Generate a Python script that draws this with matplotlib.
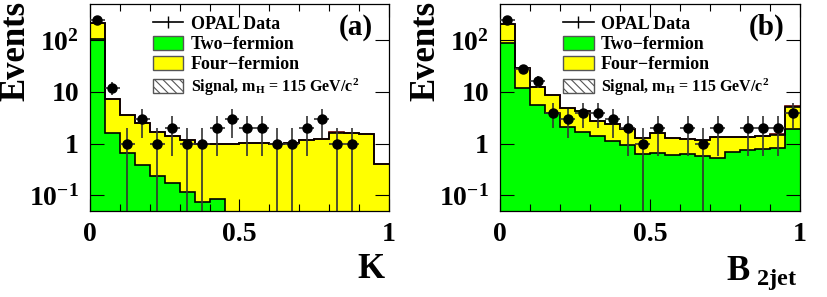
import numpy as np
import matplotlib
matplotlib.use("Agg")
import matplotlib.pyplot as plt
from matplotlib.patches import Patch
from matplotlib.lines import Line2D
from matplotlib.ticker import LogLocator, MultipleLocator, NullFormatter

plt.rcParams["font.family"] = ["Liberation Serif", "DejaVu Serif"]
plt.rcParams["font.weight"] = "bold"
plt.rcParams["mathtext.fontset"] = "custom"
plt.rcParams["mathtext.rm"] = "Liberation Serif:bold"
plt.rcParams["mathtext.it"] = "Liberation Serif:bold"
plt.rcParams["mathtext.bf"] = "Liberation Serif:bold"
plt.rcParams["hatch.linewidth"] = 0.8

# 20 bins of 0.05 between 0 and 1
edges = np.linspace(0.0, 1.0, 21)

# panel (a): K
k_two = [105, 1.62, 0.66, 0.385, 0.24, 0.17, 0.118, 0.073, 0.085, 0,
         0, 0, 0, 0, 0, 0, 0, 0, 0, 0]
k_total = [218, 7.2, 3.6, 2.5, 1.7, 1.38, 1.2, 1.0, 1.0, 0.98,
           1.05, 1.02, 0.99, 1.03, 1.16, 1.25, 1.62, 1.58, 1.53, 0.4]
k_four = list(np.subtract(k_total, k_two))
k_signal = [0, 0, 0, 0, 0, 0, 0, 0, 0, 0,
            0, 0, 0, 0, 0, 0, 0.03, 0.03, 0.03, 0]
k_data = [245, 12, 1, 3, 1, 2, 1, 1, 2, 3,
          2, 2, 1, 1, 2, 3, 1, 1, 0, 0]

# panel (b): B_2jet
b_two = [89, 12.1, 5.5, 4.0, 2.08, 1.67, 1.38, 1.14, 0.96, 0.64,
         0.66, 0.6, 0.63, 0.59, 0.53, 0.69, 0.74, 0.8, 0.83, 1.91]
b_total = [203, 28.5, 12.7, 8.9, 4.8, 4.2, 2.75, 2.4, 1.95, 1.28,
           1.64, 1.28, 1.25, 1.19, 1.32, 1.32, 1.32, 1.38, 1.49, 5.2]
b_four = list(np.subtract(b_total, b_two))
b_signal = [0, 0, 0, 0, 0, 0, 0, 0, 0, 0,
            0, 0, 0, 0, 0, 0, 0, 0, 0.03, 0.12]
b_data = [245, 28, 16, 4, 3, 4, 4, 3, 2, 1,
          2, 0, 2, 1, 2, 0, 2, 2, 2, 4]

GREEN = "#00ff00"
YELLOW = "#ffff00"
FLOOR = 1e-4


def draw_panel(ax, two, four, signal, data, tag):
    two = np.maximum(np.array(two, float), FLOOR)
    total = two + np.array(four, float)
    top = total + np.array(signal, float)

    ax.stairs(top, edges, baseline=total, fill=True, facecolor="white",
              edgecolor="#800000", hatch="\\\\\\\\", lw=0)
    ax.stairs(total, edges, baseline=FLOOR, fill=True, color=YELLOW)
    ax.stairs(two, edges, baseline=FLOOR, fill=True, color=GREEN)
    ax.stairs(top, edges, baseline=None, color="#600000", lw=1.2)
    ax.stairs(total, edges, baseline=None, color="black", lw=1.2)
    ax.stairs(two, edges, baseline=None, color="black", lw=1.2)

    data = np.array(data, float)
    centers = 0.5 * (edges[:-1] + edges[1:])
    m = data > 0
    err = np.sqrt(data[m])
    lo = np.minimum(err, data[m] - 1e-6)
    ax.errorbar(centers[m], data[m], xerr=0.025, yerr=[lo, err], fmt="o",
                color="black", ecolor="#333333", elinewidth=1.2,
                markersize=6.5, capsize=0, zorder=5)

    ax.set_xlim(0, 1)
    ax.set_yscale("log")
    ax.set_ylim(0.05, 500)
    ax.set_yticks([0.1, 1, 10, 100])
    ax.set_yticklabels(["$10^{-1}$", "1", "10", "$10^{2}$"])
    ax.yaxis.set_minor_locator(LogLocator(base=10, subs=np.arange(2, 10)))
    ax.yaxis.set_minor_formatter(NullFormatter())
    ax.set_xticks([0, 0.5, 1])
    ax.set_xticklabels(["0", "0.5", "1"])
    ax.xaxis.set_minor_locator(MultipleLocator(0.1))
    ax.tick_params(which="both", direction="in", top=True, right=True,
                   labelsize=20, pad=8, width=0.8)
    ax.tick_params(axis="y", which="major", length=10)
    ax.tick_params(axis="y", which="minor", length=5)
    ax.tick_params(axis="x", which="major", length=9)
    ax.tick_params(axis="x", which="minor", length=5)
    for s in ax.spines.values():
        s.set_linewidth(0.9)

    handles = [
        Line2D([], [], color="black", marker="|", markersize=9, lw=1.2),
        Patch(facecolor=GREEN, edgecolor="#555555"),
        Patch(facecolor=YELLOW, edgecolor="#555555"),
        Patch(facecolor="white", edgecolor="#555555", hatch="\\\\\\\\"),
    ]
    labels = ["OPAL Data", "Two\u2212fermion", "Four\u2212fermion",
              r"Signal, m$_{\mathrm{H}}$ = 115 GeV/c$^{2}$"]
    leg = ax.legend(handles, labels, loc="upper left",
                    bbox_to_anchor=(0.21, 0.945), frameon=False, fontsize=13,
                    handlelength=1.7, handleheight=0.8, handletextpad=0.4,
                    labelspacing=0.18, borderpad=0, borderaxespad=0)
    leg.get_texts()[3].set_fontsize(11.5)
    ax.text(0.89, 0.885, tag, transform=ax.transAxes, fontsize=21,
            ha="center", va="center")


fig = plt.figure(figsize=(8.28, 2.97), dpi=100)
ax1 = fig.add_axes([90 / 828, 86 / 297, 299 / 828, 207 / 297])
ax2 = fig.add_axes([500 / 828, 86 / 297, 300 / 828, 207 / 297])

draw_panel(ax1, k_two, k_four, k_signal, k_data, "(a)")
draw_panel(ax2, b_two, b_four, b_signal, b_data, "(b)")

fig.text(16 / 828, 1 - 1 / 297, "Events", rotation=90, ha="center",
         va="top", fontsize=25)
fig.text(426 / 828, 1 - 1 / 297, "Events", rotation=90, ha="center",
         va="top", fontsize=25)
fig.text(385 / 828, 1 - 269 / 297, "K", ha="right", va="center", fontsize=25)
fig.text(797 / 828, 1 - 273 / 297, r"B$_{\mathrm{\ 2jet}}$", ha="right",
         va="center", fontsize=25)

fig.savefig("out.png", dpi=100)
